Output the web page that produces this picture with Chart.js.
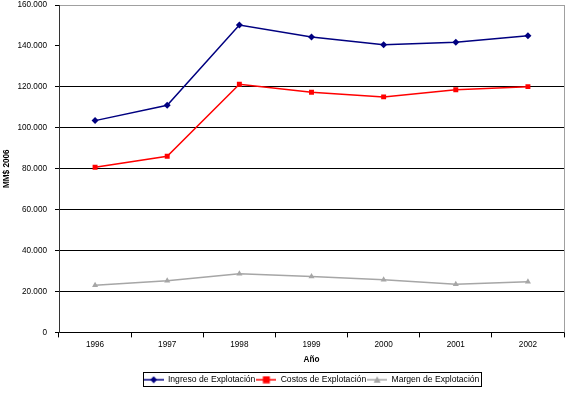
<!DOCTYPE html>
<html>
<head>
<meta charset="utf-8">
<script src="https://cdn.jsdelivr.net/npm/chart.js@4/dist/chart.umd.min.js"></script>
<style>
html,body{margin:0;padding:0;background:#fff;}
#wrap{width:574px;height:398px;}
</style>
</head>
<body>
<div id="wrap"><canvas id="c" width="574" height="398"></canvas></div>
<script>
const years = ['1996','1997','1998','1999','2000','2001','2002'];
const ingreso = [103500, 111000, 150200, 144400, 140600, 141800, 145000];
const costos = [80700, 86100, 121300, 117400, 115100, 118600, 120100];
const margen = [23000, 25200, 28700, 27300, 25700, 23500, 24700];
const yTicks = [0, 20000, 40000, 60000, 80000, 100000, 120000, 140000, 160000];
const seriesNames = ['Ingreso de Explotación', 'Costos de Explotación', 'Margen de Explotación'];
const FONT = '"Liberation Sans", Arial, sans-serif';

function legendIcon(color, shape) {
  const cv = document.createElement('canvas');
  cv.width = 20; cv.height = 8;
  const g = cv.getContext('2d');
  g.strokeStyle = color; g.lineWidth = 1.5;
  g.beginPath(); g.moveTo(0, 4); g.lineTo(20, 4); g.stroke();
  g.fillStyle = color;
  g.beginPath();
  if (shape === 'rectRot') { g.moveTo(10, 0.5); g.lineTo(13.5, 4); g.lineTo(10, 7.5); g.lineTo(6.5, 4); g.closePath(); }
  else if (shape === 'rect') { g.rect(6.5, 0.5, 7, 7); }
  else { g.moveTo(10, 0.5); g.lineTo(13.5, 7); g.lineTo(6.5, 7); g.closePath(); }
  g.fill();
  return cv;
}

const borderPlugin = {
  id: 'borders',
  afterLayout(chart) {
    const lg = chart.legend, a = chart.chartArea;
    if (lg) { lg.left = a.left; lg.right = a.right; lg.width = a.right - a.left; }
  },
  afterDraw(chart) {
    const ctx = chart.ctx, a = chart.chartArea;
    ctx.save();
    ctx.strokeStyle = '#a0a0a0'; ctx.lineWidth = 1;
    ctx.beginPath(); ctx.moveTo(Math.round(a.right) + 0.5, a.top); ctx.lineTo(Math.round(a.right) + 0.5, a.bottom); ctx.stroke();
    const lg = chart.legend;
    if (lg && lg.legendHitBoxes && lg.legendHitBoxes.length) {
      const hb = lg.legendHitBoxes;
      const x0 = hb[0].left - 1, x1 = hb[hb.length - 1].left + hb[hb.length - 1].width + 1;
      const y0 = hb[0].top - 3, y1 = hb[0].top + hb[0].height + 2;
      ctx.strokeStyle = '#000';
      ctx.strokeRect(Math.round(x0) + 0.5, Math.round(y0) + 0.5, Math.round(x1 - x0), Math.round(y1 - y0));
    }
    ctx.restore();
  }
};

new Chart(document.getElementById('c'), {
  type: 'line',
  data: {
    labels: years,
    datasets: [
      { label: seriesNames[0], data: ingreso, borderColor: '#000080', backgroundColor: '#000080', borderWidth: 1.5, pointStyle: 'rectRot', pointRadius: 3.5, pointBorderWidth: 0, tension: 0 , legendIcon: 'rectRot'},
      { label: seriesNames[1], data: costos, borderColor: '#ff0000', backgroundColor: '#ff0000', borderWidth: 1.5, pointStyle: 'rect', pointRadius: 3.5, pointBorderWidth: 0, tension: 0, legendIcon: 'rect' },
      { label: seriesNames[2], data: margen, borderColor: '#a6a6a6', backgroundColor: '#a6a6a6', borderWidth: 1.5, pointStyle: 'triangle', pointRadius: 3.5, pointBorderWidth: 0, tension: 0, legendIcon: 'triangle' }
    ]
  },
  options: {
    responsive: false,
    animation: false,
    devicePixelRatio: 1,
    layout: { padding: { left: 0, right: 10, top: 5, bottom: 4 } },
    plugins: {
      tooltip: { enabled: false },
      legend: {
        position: 'bottom',
        labels: {
          usePointStyle: true,
          pointStyleWidth: 20,
          padding: 1,
          color: '#000',
          font: { family: FONT, size: 8.6 },
          generateLabels(chart) {
            return chart.data.datasets.map((ds, i) => ({
              text: ds.label,
              fillStyle: ds.borderColor,
              strokeStyle: ds.borderColor,
              pointStyle: legendIcon(ds.borderColor, ds.legendIcon),
              lineWidth: 0,
              hidden: false,
              datasetIndex: i,
              fontColor: '#000'
            }));
          }
        }
      }
    },
    scales: {
      x: {
        offset: true,
        grid: { display: true, drawOnChartArea: false, drawTicks: true, tickLength: 5, offset: true, color: '#000' },
        border: { display: true, color: '#000', width: 1 },
        ticks: { color: '#000', font: { family: FONT, size: 8.2 }, padding: 2, maxRotation: 0 },
        title: { display: true, text: 'Año', color: '#000', font: { family: FONT, size: 8.2, weight: 'bold' }, padding: { top: 3, bottom: 10 } },
        afterFit(s) { s.height = 42; s.paddingLeft = 0; s.paddingRight = 0; }
      },
      y: {
        min: 0, max: 160000,
        afterBuildTicks(s) { s.ticks = yTicks.map(v => ({ value: v })); },
        grid: {
          drawTicks: true, tickLength: 4,
          color(ctx) { const v = ctx.tick && ctx.tick.value; if (v === 160000) return '#a0a0a0'; if (v === 140000) return 'rgba(0,0,0,0)'; return '#000'; },
          tickColor: '#000'
        },
        border: { display: true, color: '#333', width: 1 },
        ticks: {
          color: '#000', font: { family: FONT, size: 8.2 }, padding: 8,
          callback(v) { return v === 0 ? '0' : v.toLocaleString('de-DE', { minimumFractionDigits: 0 }); }
        },
        title: { display: true, text: 'MM$ 2006', color: '#000', font: { family: FONT, size: 8.2, weight: 'bold' }, padding: { top: 2, bottom: 2 } },
        afterFit(s) { s.width = 59; s.paddingTop = 0; s.paddingBottom = 0; }
      }
    }
  },
  plugins: [borderPlugin]
});
</script>
</body>
</html>
